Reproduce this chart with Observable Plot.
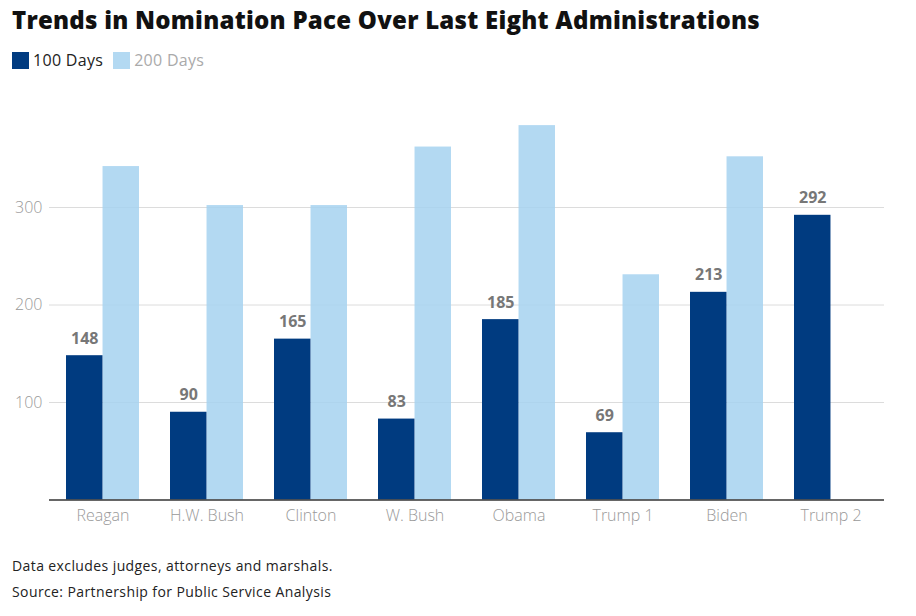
<!DOCTYPE html>
<html>
<head>
<meta charset="utf-8">
<script src="https://cdn.jsdelivr.net/npm/d3@7"></script>
<script src="https://cdn.jsdelivr.net/npm/@observablehq/plot@0.6"></script>
<style>
  html, body { margin: 0; padding: 0; background: #fff; }
  body { width: 916px; height: 616px; font-family: "Open Sans", sans-serif; overflow: hidden; }
  #title { height: 40px; line-height: 40px; padding-left: 12px; font-size: 24px; font-weight: 800; color: #111; white-space: nowrap; letter-spacing: 0.25px; }
  #legend { height: 40px; display: flex; align-items: center; padding-left: 12px; font-size: 16px; letter-spacing: 0.3px; }
  .sw { width: 17px; height: 17px; display: inline-block; margin-right: 4px; }
  .item { display: flex; align-items: center; margin-right: 10px; }
  #chart { height: 455px; }
  #foot { margin-top: 18px; padding-left: 12px; font-size: 14px; line-height: 26px; color: #222; letter-spacing: 0.4px; }
</style>
</head>
<body>
<div id="title">Trends in Nomination Pace Over Last Eight Administrations</div>
<div id="legend"></div>
<div id="chart"></div>
<div id="foot">Data excludes judges, attorneys and marshals.<br>Source: Partnership for Public Service Analysis</div>
<script>
const admins = ["Reagan", "H.W. Bush", "Clinton", "W. Bush", "Obama", "Trump 1", "Biden", "Trump 2"];
const days100 = [148, 90, 165, 83, 185, 69, 213, 292];
const days200 = [342, 302, 302, 362, 384, 231, 352, null];
const seriesNames = ["100 Days", "200 Days"];
const seriesColors = ["#003b80", "#b3d9f2"];
const yTicks = [100, 200, 300];

const rows100 = admins.map((a, i) => ({admin: a, value: days100[i]}));
const rows200 = admins.map((a, i) => ({admin: a, value: days200[i]})).filter(d => d.value != null);

// legend
const legend = document.getElementById("legend");
seriesNames.forEach((s, i) => {
  const it = document.createElement("span");
  it.className = "item";
  it.innerHTML = `<span class="sw" style="background:${seriesColors[i]}"></span><span style="color:${i === 0 ? "#222" : "#aaa"}">${s}</span>`;
  legend.appendChild(it);
});

const W = 916, H = 455, ML = 49, MR = 32, MT = 29.5, MB = 35.5;
const padIn = 0.3, padOut = 0.15;
const step = (W - ML - MR) / (admins.length - padIn + 2 * padOut);
const half = step * (1 - padIn) / 2;

const chart = Plot.plot({
  width: W,
  height: H,
  marginLeft: ML,
  marginRight: MR,
  marginTop: MT,
  marginBottom: MB,
  style: {fontFamily: "Open Sans, sans-serif", fontSize: "16px", background: "#fff"},
  x: {domain: admins, paddingInner: padIn, paddingOuter: padOut, label: null},
  y: {domain: [0, 400], label: null},
  marks: [
    Plot.ruleY(yTicks, {stroke: "#dcdcdc", strokeWidth: 1}),
    Plot.barY(rows200, {x: "admin", y: "value", fill: "#a6d2f0", fillOpacity: 0.85, insetLeft: half}),
    Plot.barY(rows100, {x: "admin", y: "value", fill: seriesColors[0], insetRight: half}),
    Plot.text(rows100, {x: "admin", y: "value", text: d => String(d.value), dx: -half / 2, dy: -17, fill: "#777", fontWeight: 700, fontSize: 16}),
    Plot.ruleY([0], {stroke: "#333", strokeWidth: 1.5}),
    Plot.axisX({tickSize: 0, tickPadding: 10, fill: "#999", fontSize: 16, fontWeight: 300}),
    Plot.axisY({ticks: yTicks, tickSize: 0, tickPadding: 7, fill: "#999", fontSize: 16, fontWeight: 300})
  ]
});
document.getElementById("chart").appendChild(chart);
</script>
</body>
</html>
